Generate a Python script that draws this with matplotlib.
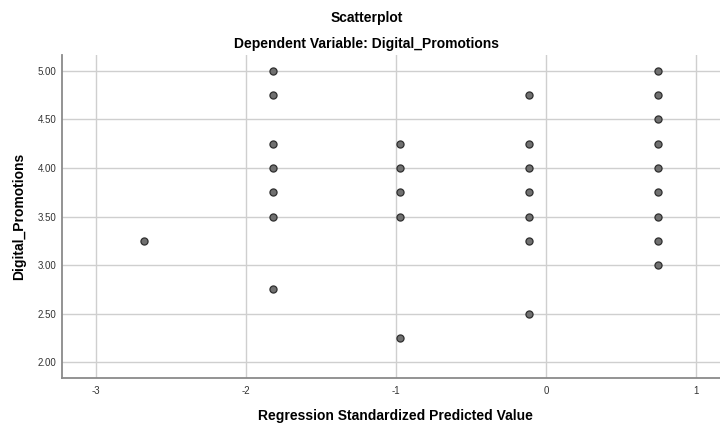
import matplotlib
matplotlib.use("Agg")
import matplotlib.pyplot as plt
import numpy as np

plt.rcParams['font.family'] = ['Liberation Sans', 'DejaVu Sans']

# Predicted value groups (x) and observed Digital_Promotions (y)
pred_x = [-2.68,
          -1.82, -1.82, -1.82, -1.82, -1.82, -1.82, -1.82,
          -0.97, -0.97, -0.97, -0.97, -0.97,
          -0.11, -0.11, -0.11, -0.11, -0.11, -0.11, -0.11,
          0.75, 0.75, 0.75, 0.75, 0.75, 0.75, 0.75, 0.75, 0.75]
obs_y = [3.25,
         5.00, 4.75, 4.25, 4.00, 3.75, 3.50, 2.75,
         4.25, 4.00, 3.75, 3.50, 2.25,
         4.75, 4.25, 4.00, 3.75, 3.50, 3.25, 2.50,
         5.00, 4.75, 4.50, 4.25, 4.00, 3.75, 3.50, 3.25, 3.00]

x_ticks = [-3, -2, -1, 0, 1]
x_tick_labels = ["-3", "-2", "-1", "0", "1"]
y_ticks = [2.00, 2.50, 3.00, 3.50, 4.00, 4.50, 5.00]
y_tick_labels = ["2.00", "2.50", "3.00", "3.50", "4.00", "4.50", "5.00"]

W, H = 720, 424
fig = plt.figure(figsize=(W / 100, H / 100), dpi=100)
left, right, top, bottom = 62, 729, 55, 378
ax = fig.add_axes([left / W, 1 - bottom / H, (right - left) / W, (bottom - top) / H])

ax.set_xlim(-3.225, 1.22)
ax.set_ylim(1.84, 5.16)

ax.grid(True, color='#cfcfcf', linewidth=1.0, zorder=0)
ax.set_axisbelow(True)

ax.scatter(pred_x, obs_y, s=26, facecolor='#707070', edgecolor='#2e2e2e',
           linewidth=0.9, zorder=3)

ax.set_xticks(x_ticks)
ax.set_xticklabels(x_tick_labels)
ax.set_yticks(y_ticks)
ax.set_yticklabels(y_tick_labels)
ax.tick_params(axis='both', length=0, labelsize=7, colors='#333333')
ax.tick_params(axis='x', pad=5.5)
ax.tick_params(axis='y', pad=4)

for s in ['top', 'right']:
    ax.spines[s].set_visible(False)
for s in ['left', 'bottom']:
    ax.spines[s].set_color('#8a8a8a')
    ax.spines[s].set_linewidth(1.3)

ax.set_xlabel("Regression Standardized Predicted Value", fontsize=10,
              fontweight='bold', labelpad=9.5)
ax.set_ylabel("Digital_Promotions", fontsize=10, fontweight='bold', labelpad=8)

fig.text(367 / W, 1 - 18 / H, "Scatterplot", ha='center', va='center',
         fontsize=10, fontweight='bold')
fig.text(367 / W, 1 - 44 / H, "Dependent Variable: Digital_Promotions",
         ha='center', va='center', fontsize=10, fontweight='bold')

fig.savefig("out.png", dpi=100, facecolor='white')
